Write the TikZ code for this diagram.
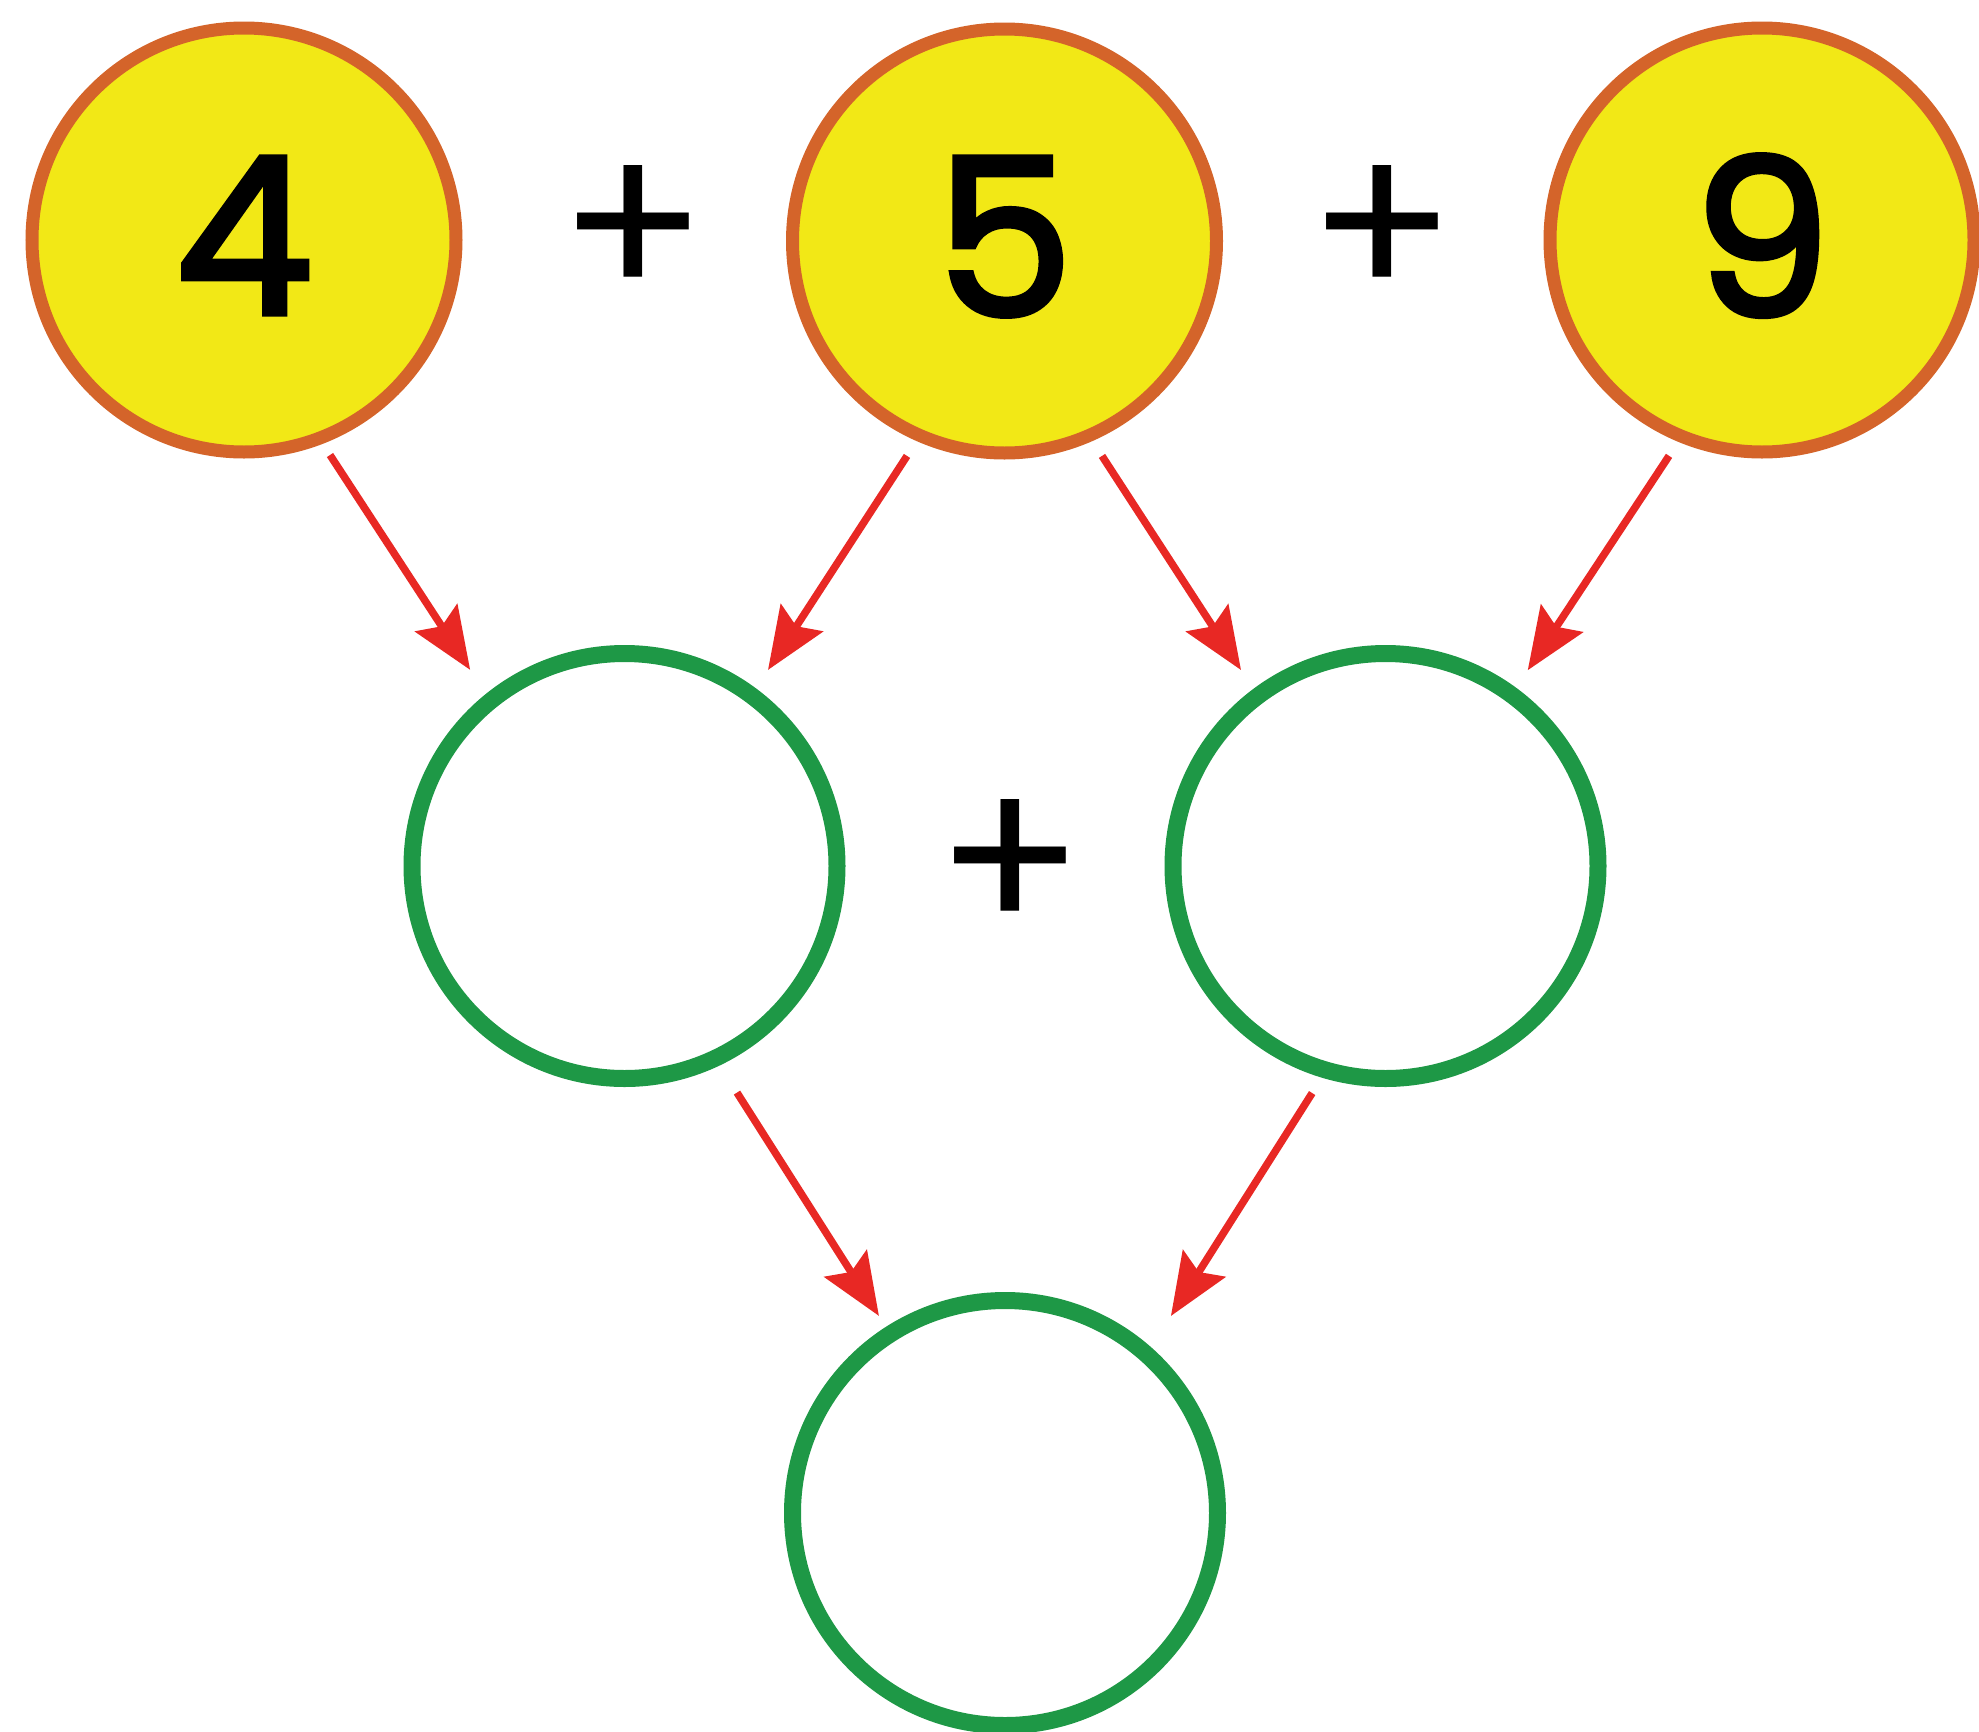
\documentclass[tikz,border=0pt]{standalone}
\usepackage{fontspec}
\setmainfont{Poppins}
\newfontfamily\digitfont{Poppins}[FakeBold=2.5]
\usetikzlibrary{arrows.meta,calc}
\definecolor{ballfill}{RGB}{242,232,22}
\definecolor{balledge}{RGB}{212,100,42}
\definecolor{ringgreen}{RGB}{30,152,70}
\definecolor{arrred}{RGB}{232,40,36}
\begin{document}
\begin{tikzpicture}[x=1pt,y=-1pt,
  ball/.style={circle,draw=balledge,fill=ballfill,line width=13pt,minimum size=424pt,inner sep=0pt,
    font=\digitfont\fontsize{219}{219}\selectfont},
  ring/.style={circle,draw=ringgreen,line width=17pt,minimum size=425pt,inner sep=0pt},
  plussign/.style={inner sep=0pt,font=\fontsize{219}{219}\selectfont},
  arr/.style={draw=arrred,line width=7.5pt,-{Stealth[length=62pt,width=50pt,inset=10pt]}}]
\useasboundingbox[fill=white] (0,0) rectangle (1979,1732);
% top row
\node[ball] (n4) at (244,240) {\raisebox{9pt}{4}};
\node[ball] (n5) at (1004.5,241) {\raisebox{9pt}{5}};
\node[ball] (n9) at (1762,240) {\raisebox{9pt}{9}};
\node[plussign] (p1) at (633,233) {+};
\node[plussign] (p2) at (1382,233) {+};
% middle row
\node[ring] (m1) at (624.5,866) {};
\node[ring] (m2) at (1385.5,866) {};
\node[plussign] (p3) at (1010,867) {+};
% bottom
\node[ring] (b) at (1005,1513) {};
% arrows
\draw[arr] ($(n4.center)+(-68.2:231.6pt)$) -- ($(m1.center)+(128.2:249.6pt)$);
\draw[arr] ($(n5.center)+(-114.4:236pt)$) -- ($(m1.center)+(53.8:243pt)$);
\draw[arr] ($(n5.center)+(-65.6:236pt)$) -- ($(m2.center)+(126.4:243.5pt)$);
\draw[arr] ($(n9.center)+(-113.3:235pt)$) -- ($(m2.center)+(54:242pt)$);
\draw[arr] ($(m1.center)+(-63.6:253pt)$) -- ($(b.center)+(122.6:234pt)$);
\draw[arr] ($(m2.center)+(-107.9:238.6pt)$) -- ($(b.center)+(49.9:257.6pt)$);
\end{tikzpicture}
\end{document}
